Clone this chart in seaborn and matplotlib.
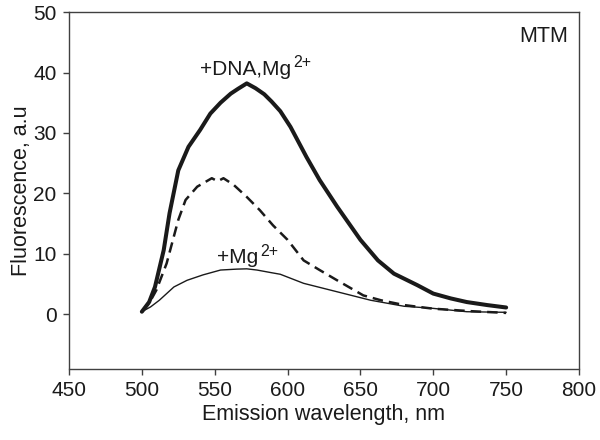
import pandas as pd
import seaborn as sns
import matplotlib.pyplot as plt

# values
wl_dna = [500, 505, 509, 515, 519, 525, 532, 540, 547, 554, 561, 566, 572, 578, 584, 589, 595,
          602, 613, 622, 634, 650, 662, 673, 689, 700, 712, 723, 737, 750]
fl_dna = [0.4, 2.0, 4.5, 10.6, 16.7, 23.8, 27.7, 30.5, 33.2, 35.0, 36.5, 37.3, 38.2, 37.4, 36.4,
          35.2, 33.6, 31.0, 26.0, 22.2, 17.8, 12.3, 8.9, 6.7, 4.8, 3.4, 2.6, 2.0, 1.5, 1.1]

wl_dash = [500, 505, 510, 517, 525, 530, 538, 548, 552, 556, 563, 572, 581, 590, 600, 611,
           622, 634, 652, 664, 680, 700, 725, 750]
fl_dash = [0.4, 1.8, 4.0, 8.4, 15.6, 18.9, 21.1, 22.5, 22.0, 22.5, 21.4, 19.4, 17.2, 14.7, 12.3,
           8.9, 7.3, 5.6, 3.1, 2.3, 1.5, 0.9, 0.5, 0.2]

wl_mg = [500, 506, 512, 522, 531, 542, 554, 565, 572, 579, 588, 595, 611, 634, 657, 680,
         698, 723, 750]
fl_mg = [0.4, 1.2, 2.3, 4.5, 5.6, 6.5, 7.3, 7.45, 7.5, 7.3, 6.9, 6.6, 5.1, 3.7, 2.3, 1.3,
         1.0, 0.4, 0.3]

x_ticks = [450, 500, 550, 600, 650, 700, 750, 800]
y_ticks = [0, 10, 20, 30, 40, 50]

sns.set_style("ticks")
plt.rcParams['font.family'] = ['Liberation Sans', 'DejaVu Sans']

fig = plt.figure(figsize=(6, 4.4), dpi=100)
ax = fig.add_axes([0.115, 0.1625, 0.85, 0.81])

ink = "#1a1a1a"
sns.lineplot(x=wl_mg, y=fl_mg, ax=ax, color=ink, linewidth=1.0)
sns.lineplot(x=wl_dash, y=fl_dash, ax=ax, color=ink, linewidth=1.8)
ax.lines[-1].set_dashes((4.2, 2.4))
sns.lineplot(x=wl_dna, y=fl_dna, ax=ax, color=ink, linewidth=2.9)

ax.set_xlim(450, 800)
ax.set_ylim(-9, 50)
ax.set_xticks(x_ticks)
ax.set_yticks(y_ticks)
ax.tick_params(labelsize=15, length=4, width=1, color="#404040", labelcolor=ink,
               direction="out", pad=5)
for s in ax.spines.values():
    s.set_visible(True)
    s.set_color("#404040")
    s.set_linewidth(1.0)

ax.set_xlabel("Emission wavelength, nm", fontsize=15.5, color=ink, labelpad=3)
ax.set_ylabel("Fluorescence, a.u", fontsize=15.5, color=ink, labelpad=1)

# labels with a larger superscript drawn as its own text
def label(x, y, main, sup):
    t = ax.text(x, y, main, fontsize=15, color=ink, ha="left", va="baseline")
    fig.canvas.draw()
    bb = t.get_window_extent().transformed(ax.transData.inverted())
    ax.text(bb.x1 + 1.2, y + 1.3, sup, fontsize=11.5, color=ink, ha="left", va="baseline")

label(540, 39.6, "+DNA,Mg", "2+")
label(551.5, 8.4, "+Mg", "2+")
ax.text(792.4, 45.0, "MTM", fontsize=15.5, color=ink, ha="right", va="baseline")

plt.savefig("out.png", dpi=100)
